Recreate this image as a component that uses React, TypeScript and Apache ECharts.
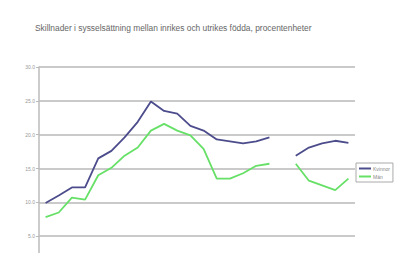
import React, { useEffect, useRef } from "react";
import * as echarts from "echarts";

const titleText = "Skillnader i sysselsättning mellan inrikes och utrikes födda, procentenheter";
const years = [
  "1987", "1988", "1989", "1990", "1991", "1992", "1993", "1994", "1995", "1996", "1997", "1998",
  "1999", "2000", "2001", "2002", "2003", "2004", "2005", "2006", "2007", "2008", "2009", "2010",
];
const kvinnor = [
  9.9, 11.0, 12.2, 12.2, 16.5, 17.6, 19.6, 21.9, 24.9, 23.5, 23.1, 21.3,
  20.6, 19.3, 19.0, 18.7, 19.0, 19.6, null, 16.9, 18.1, 18.7, 19.1, 18.8,
];
const man = [
  7.8, 8.5, 10.7, 10.4, 14.0, 15.1, 16.9, 18.1, 20.6, 21.6, 20.6, 19.9,
  17.9, 13.5, 13.5, 14.3, 15.4, 15.7, null, 15.7, 13.2, 12.5, 11.8, 13.5,
];
const seriesNames = ["Kvinnor", "Män"];

export default function App() {
  const ref = useRef<HTMLDivElement>(null);
  useEffect(() => {
    if (!ref.current) return;
    const chart = echarts.init(ref.current, null, { renderer: "svg" });
    chart.setOption({
      animation: false,
      backgroundColor: "#ffffff",
      title: {
        text: titleText,
        left: 30,
        top: 19,
        textStyle: { fontFamily: "Liberation Sans, Arial", fontSize: 8.4, fontWeight: "normal", color: "#666" },
      },
      legend: {
        orient: "vertical",
        left: 356,
        top: 163,
        data: seriesNames,
        itemWidth: 12,
        itemHeight: 2,
        itemGap: 3,
        padding: [3, 3, 3, 3],
        borderColor: "#aaa",
        borderWidth: 1,
        icon: "rect",
        textStyle: { fontFamily: "Liberation Sans, Arial", fontSize: 5, color: "#888", padding: [0, 0, 0, -3] },
      },
      grid: { left: 39, right: 43, top: 67, bottom: 30 },
      xAxis: {
        type: "category",
        data: years,
        boundaryGap: true,
        axisLine: { lineStyle: { color: "#aaa" } },
        axisTick: { show: false },
        axisLabel: { show: false },
      },
      yAxis: {
        type: "value",
        min: 0,
        max: 30,
        interval: 5,
        axisLine: { show: true, lineStyle: { color: "#bbb", width: 1.5 } },
        axisTick: { show: true, length: 3, lineStyle: { color: "#bbb" } },
        axisLabel: {
          formatter: (v: number) => v.toFixed(1),
          showMinLabel: false,
          fontSize: 5,
          color: "#999",
          margin: 4,
          fontFamily: "Liberation Sans, Arial",
        },
        splitLine: { lineStyle: { color: "#b8b8b8", width: 1.5 } },
      },
      series: [
        {
          name: seriesNames[0],
          type: "line",
          data: kvinnor,
          showSymbol: false,
          connectNulls: false,
          lineStyle: { color: "#4c4c8c", width: 1.8 },
          itemStyle: { color: "#4c4c8c" },
        },
        {
          name: seriesNames[1],
          type: "line",
          data: man,
          showSymbol: false,
          connectNulls: false,
          lineStyle: { color: "#66e066", width: 1.8 },
          itemStyle: { color: "#66e066" },
        },
      ],
    });
    return () => chart.dispose();
  }, []);
  return (
    <div style={{ position: "fixed", left: 0, top: 0, width: 398, height: 253, overflow: "hidden", background: "#fff" }}>
      <div ref={ref} style={{ width: 398, height: 300 }} />
    </div>
  );
}
